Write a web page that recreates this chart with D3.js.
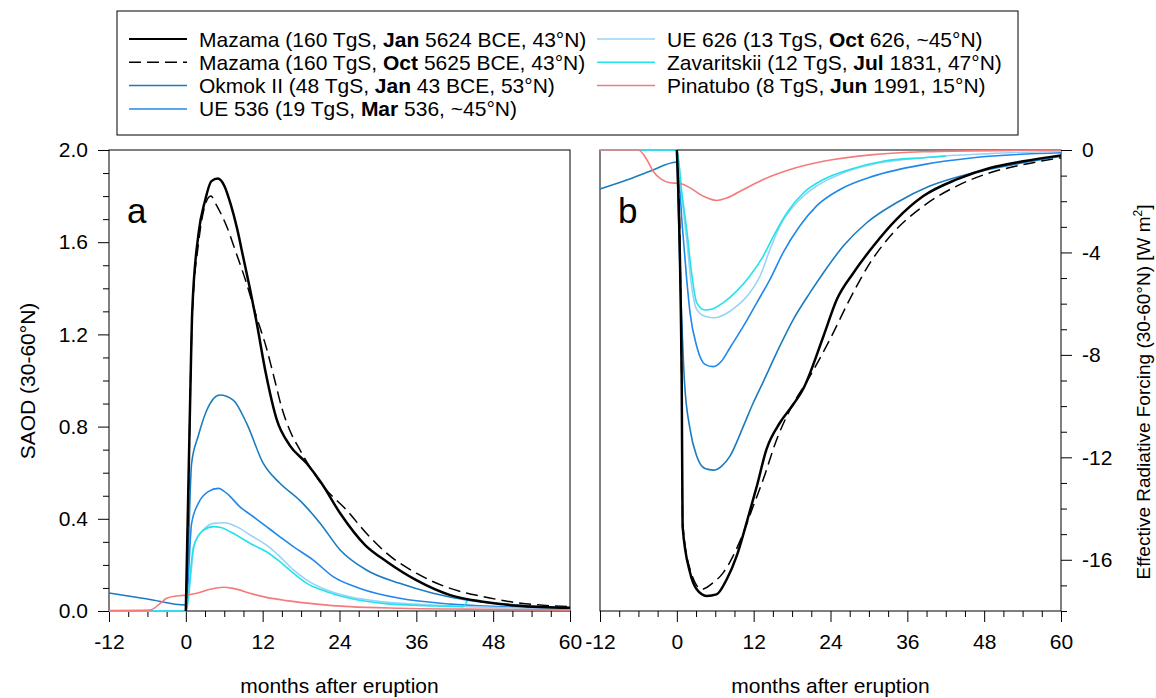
<!DOCTYPE html>
<html>
<head>
<meta charset="utf-8">
<script src="https://cdn.jsdelivr.net/npm/d3@7"></script>
<style>
  body { margin: 0; background: #fff; }
  svg { font-family: "Liberation Sans", Arial, sans-serif; }
</style>
</head>
<body>
<svg width="1156" height="698"></svg>
<script>
// Panel a: SAOD (30-60N), [month, value]
const mazamaJanSaod = [[0,0],[0.7,0.95],[1,1.30],[2,1.64],[3,1.78],[4,1.865],[5,1.876],[6,1.845],[7,1.765],[8,1.66],[9,1.53],[10,1.40],[11,1.26],[12.5,1.03],[14.2,0.83],[16.2,0.72],[18.9,0.64],[21.2,0.554],[24.1,0.424],[28,0.286],[31.4,0.214],[36,0.134],[41.3,0.069],[46.4,0.04],[51.7,0.023],[60,0.014]];
const mazamaOctSaod = [[-12,0],[0,0],[0.7,0.95],[1,1.28],[2,1.60],[3,1.76],[3.9,1.80],[4.8,1.76],[6.4,1.667],[7.9,1.55],[9.5,1.42],[11,1.28],[12.6,1.14],[13.9,1.0],[15,0.88],[16.3,0.78],[17.8,0.70],[21.5,0.54],[25.1,0.438],[28.2,0.337],[31.4,0.25],[36,0.164],[41.3,0.098],[46.5,0.062],[51.7,0.036],[60,0.019]];
const okmokSaod = [[-12,0.078],[-6,0.052],[0,0.026],[0.9,0.64],[1.95,0.76],[3.25,0.87],[5.3,0.937],[7.4,0.915],[9.5,0.814],[12.1,0.64],[14.7,0.554],[17.8,0.48],[21,0.38],[24.1,0.265],[28.2,0.178],[33.4,0.12],[38.6,0.077],[43.8,0.048],[51.7,0.026],[60,0.014]];
const ue536Saod = [[-12,0],[0,0],[0.9,0.38],[1.95,0.467],[3.5,0.518],[5.1,0.532],[6.4,0.51],[8.45,0.452],[10.5,0.41],[12.6,0.366],[14.7,0.322],[16.8,0.279],[19.9,0.221],[23,0.149],[27.2,0.098],[33.4,0.055],[41.3,0.03],[49,0.019],[60,0.011]];
const ue626Saod = [[-12,0],[0,0],[1.4,0.294],[2.7,0.35],[4.3,0.38],[6.1,0.383],[7.9,0.366],[10.5,0.322],[12.6,0.286],[14.7,0.236],[16.8,0.178],[18.9,0.134],[22,0.091],[25.6,0.062],[30.8,0.04],[38.6,0.026],[43.8,0.019],[52,0.013],[60,0.01]];
const zavaritskiiSaod = [[-12,0],[0,0],[1.2,0.279],[2.7,0.35],[4.3,0.366],[5.3,0.363],[7.4,0.337],[10,0.294],[12.6,0.257],[14.7,0.214],[16.8,0.164],[18.9,0.12],[22,0.084],[25.6,0.055],[30.8,0.033],[38.6,0.022],[43.3,0.019],[44,0.048]];
const pinatuboSaod = [[-12,0.002],[-5.6,0.004],[-4,0.033],[-3,0.055],[-1.45,0.065],[0,0.069],[1.7,0.077],[3.8,0.094],[5.85,0.103],[7.4,0.098],[10,0.077],[12.6,0.059],[15.7,0.045],[20.4,0.03],[25.6,0.019],[33.4,0.012],[43.8,0.008],[60,0.005]];

// Panel b: effective radiative forcing (30-60N) [W m-2]
const mazamaJanErf = [[0,0],[0.76,-8.96],[0.9,-14.7],[2.06,-16.5],[3.1,-17.15],[4.66,-17.41],[6.2,-17.35],[7.8,-16.76],[9.35,-15.85],[10.9,-14.55],[12.5,-13.12],[14,-11.69],[16.1,-10.65],[18.2,-9.93],[19.75,-9.32],[22.9,-7.27],[25,-5.83],[27.6,-4.79],[30.7,-3.75],[34.3,-2.71],[38.5,-1.8],[43.7,-1.15],[48.9,-0.7],[54.1,-0.44],[60,-0.21]];
const mazamaOctErf = [[-12,0],[0,0],[0.76,-8.96],[0.9,-14.5],[2.1,-16.4],[3.9,-17.15],[5.7,-16.89],[7.26,-16.5],[8.8,-15.85],[10.4,-14.94],[11.94,-13.9],[13.5,-12.86],[15.6,-11.3],[17.7,-10.13],[20.5,-8.96],[23.9,-7.4],[27,-5.83],[30.2,-4.4],[33.8,-3.23],[38.5,-2.19],[43.7,-1.41],[48.9,-0.89],[54.1,-0.57],[60,-0.3]];
const okmokErf = [[-12,-1.52],[-8.36,-1.22],[-4.2,-0.83],[-0.1,-0.48],[0.6,-5.5],[1.17,-8.96],[2.06,-10.9],[3.1,-11.95],[4.4,-12.44],[5.7,-12.5],[7,-12.34],[8.3,-11.95],[10.4,-10.78],[11.94,-9.87],[13.4,-9.1],[15.6,-7.91],[18.2,-6.61],[20.8,-5.57],[22.9,-4.79],[26,-3.75],[29.65,-2.84],[34.3,-2.06],[39.5,-1.41],[46.3,-0.89],[54.1,-0.5],[60,-0.24]];
const ue536Erf = [[-12,0],[0,0],[0.8,-2.8],[1.54,-5.05],[2.06,-6.35],[3.1,-7.66],[4.4,-8.37],[5.7,-8.46],[7,-8.24],[8.3,-7.72],[10.4,-6.88],[12.5,-5.96],[14.55,-5.05],[16.6,-4.01],[19.2,-2.97],[21.8,-2.19],[25.5,-1.54],[30.7,-1.02],[38.5,-0.57],[46.3,-0.3],[60,-0.11]];
const ue626Erf = [[-12,0],[0,0],[0.8,-1.9],[1.54,-3.49],[2.3,-5.3],[3.1,-6.22],[4.4,-6.49],[5.96,-6.55],[7.5,-6.42],[9.35,-6.1],[11.4,-5.57],[13,-4.92],[14.55,-3.88],[16.1,-2.97],[18.7,-2.06],[21.8,-1.41],[26,-0.89],[31.2,-0.53],[38.5,-0.3],[48.9,-0.14],[60,-0.05]];
const zavaritskiiErf = [[-12,0],[0,0],[0.8,-1.7],[1.54,-3.1],[2.3,-4.79],[3.1,-5.96],[4.4,-6.25],[5.4,-6.22],[7.26,-5.96],[9.35,-5.51],[11.4,-4.92],[13.5,-4.14],[15.1,-3.36],[17.2,-2.45],[19.8,-1.67],[22.9,-1.15],[27,-0.76],[32.2,-0.44],[38.5,-0.3],[42,-0.24]];
const pinatuboErf = [[-12,0],[-6,0],[-4.7,-0.37],[-3.7,-0.83],[-2.4,-1.15],[-1.07,-1.28],[0.5,-1.31],[2.06,-1.48],[4.1,-1.8],[6.2,-1.97],[7.8,-1.87],[10.4,-1.54],[13.5,-1.15],[17.7,-0.76],[22.9,-0.44],[30.7,-0.18],[38.5,-0.07],[54,-0.01],[60,0]];

const monthTicks = [-12, 0, 12, 24, 36, 48, 60];
const saodTicks = [0, 0.4, 0.8, 1.2, 1.6, 2.0];
const erfTicks = [0, -4, -8, -12, -16];

// legend rows: label parts [text, bold?]
const legendItems = [
  { key: "mazamaJan", parts: [["Mazama (160 TgS, ", false], ["Jan", true], [" 5624 BCE, 43°N)", false]] },
  { key: "mazamaOct", parts: [["Mazama (160 TgS, ", false], ["Oct", true], [" 5625 BCE, 43°N)", false]] },
  { key: "okmok", parts: [["Okmok II (48 TgS, ", false], ["Jan", true], [" 43 BCE, 53°N)", false]] },
  { key: "ue536", parts: [["UE 536 (19 TgS, ", false], ["Mar", true], [" 536, ~45°N)", false]] },
  { key: "ue626", parts: [["UE 626 (13 TgS, ", false], ["Oct", true], [" 626, ~45°N)", false]] },
  { key: "zavaritskii", parts: [["Zavaritskii (12 TgS, ", false], ["Jul", true], [" 1831, 47°N)", false]] },
  { key: "pinatubo", parts: [["Pinatubo (8 TgS, ", false], ["Jun", true], [" 1991, 15°N)", false]] }
];

const styles = {
  mazamaJan: { color: "#000", width: 2.5, dash: null },
  mazamaOct: { color: "#000", width: 1.5, dash: "12,6" },
  okmok: { color: "#1a7cbf", width: 1.6, dash: null },
  ue536: { color: "#2088ea", width: 1.6, dash: null },
  ue626: { color: "#9ad2f7", width: 1.6, dash: null },
  zavaritskii: { color: "#22e3ea", width: 1.6, dash: null },
  pinatubo: { color: "#f47b7b", width: 1.6, dash: null }
};

const saodSeries = { mazamaOct: mazamaOctSaod, ue536: ue536Saod, ue626: ue626Saod, zavaritskii: zavaritskiiSaod, okmok: okmokSaod, pinatubo: pinatuboSaod, mazamaJan: mazamaJanSaod };
const erfSeries = { mazamaOct: mazamaOctErf, ue536: ue536Erf, ue626: ue626Erf, zavaritskii: zavaritskiiErf, okmok: okmokErf, pinatubo: pinatuboErf, mazamaJan: mazamaJanErf };

const svg = d3.select("svg");
const plotTop = 150, plotBottom = 611;
const fontSize = "21px";
// plain hyphen for negative numbers, like the original
const hyphen = f => d => f(d).replace("\u2212", "-");

function drawPanel(left, right, yDomain, yTicks, yMinorStep, series, yFormat, side, letter) {
  const x = d3.scaleLinear().domain([-12, 60]).range([left, right]);
  const y = d3.scaleLinear().domain(yDomain).range([plotBottom, plotTop]);
  const g = svg.append("g");

  // frame
  g.append("rect")
    .attr("x", left).attr("y", plotTop)
    .attr("width", right - left).attr("height", plotBottom - plotTop)
    .attr("fill", "none").attr("stroke", "#000").attr("stroke-width", 1);

  // x axis: major ticks every 12, minor every 3
  const xMinor = d3.range(-12, 61, 3).filter(d => d % 12 !== 0);
  g.append("g")
    .attr("transform", `translate(0,${plotBottom})`)
    .call(d3.axisBottom(x).tickValues(xMinor).tickSize(6).tickFormat(""))
    .call(a => a.select(".domain").remove());
  g.append("g")
    .attr("transform", `translate(0,${plotBottom})`)
    .call(d3.axisBottom(x).tickValues(monthTicks).tickSize(11).tickPadding(12).tickFormat(hyphen(d3.format("d"))))
    .call(a => a.select(".domain").remove())
    .selectAll("text").style("font-size", fontSize).attr("fill", "#000");

  // y axis
  const yMinor = d3.range(yDomain[0], yDomain[1] + 1e-9, yMinorStep)
    .filter(v => !yTicks.some(t => Math.abs(t - v) < 1e-6));
  const axisFn = side === "left" ? d3.axisLeft : d3.axisRight;
  const xPos = side === "left" ? left : right;
  g.append("g")
    .attr("transform", `translate(${xPos},0)`)
    .call(axisFn(y).tickValues(yMinor).tickSize(6).tickFormat(""))
    .call(a => a.select(".domain").remove());
  g.append("g")
    .attr("transform", `translate(${xPos},0)`)
    .call(axisFn(y).tickValues(yTicks).tickSize(11).tickPadding(10).tickFormat(hyphen(yFormat)))
    .call(a => a.select(".domain").remove())
    .selectAll("text").style("font-size", fontSize).attr("fill", "#000");

  const line = d3.line()
    .x(d => x(d[0]))
    .y(d => y(d[1]))
    .curve(d3.curveMonotoneX);

  Object.entries(series).forEach(([key, data]) => {
    const s = styles[key];
    g.append("path")
      .datum(data)
      .attr("d", line)
      .attr("fill", "none")
      .attr("stroke", s.color)
      .attr("stroke-width", s.width)
      .attr("stroke-dasharray", s.dash)
      .attr("stroke-linejoin", "round");
  });

  g.append("text")
    .attr("x", left + 18).attr("y", 223)
    .style("font-size", "35px")
    .text(letter);

  g.append("text")
    .attr("x", (left + right) / 2).attr("y", 693)
    .attr("text-anchor", "middle")
    .style("font-size", fontSize)
    .text("months after eruption");
}

drawPanel(109, 570, [0, 2], saodTicks, 0.1, saodSeries, d3.format(".1f"), "left", "a");
drawPanel(600, 1061, [-18, 0], erfTicks, 1, erfSeries, d3.format("d"), "right", "b");

// y titles
svg.append("text")
  .attr("transform", "translate(35,381) rotate(-90)")
  .attr("text-anchor", "middle")
  .style("font-size", fontSize)
  .text("SAOD (30-60°N)");

const erfTitle = svg.append("text")
  .attr("transform", "translate(1150,392) rotate(-90)")
  .attr("text-anchor", "middle")
  .style("font-size", "19px");
erfTitle.append("tspan").text("Effective Radiative Forcing (30-60°N) [W m");
erfTitle.append("tspan").attr("dy", -8).style("font-size", "12px").text("2");
erfTitle.append("tspan").attr("dy", 8).text("]");

// legend
const legend = svg.append("g");
legend.append("rect")
  .attr("x", 117).attr("y", 11)
  .attr("width", 901).attr("height", 124)
  .attr("fill", "#fff").attr("stroke", "#000").attr("stroke-width", 1);

legendItems.forEach((item, i) => {
  const col = i < 4 ? 0 : 1;
  const row = i < 4 ? i : i - 4;
  const lx = col === 0 ? 129 : 597;
  const ly = 39 + row * 23.3;
  const s = styles[item.key];
  legend.append("line")
    .attr("x1", lx).attr("x2", lx + 58)
    .attr("y1", ly).attr("y2", ly)
    .attr("stroke", s.color)
    .attr("stroke-width", item.key === "mazamaJan" ? 2 : 1.5)
    .attr("stroke-dasharray", s.dash);
  const t = legend.append("text")
    .attr("x", lx + 70).attr("y", ly + 7.5)
    .style("font-size", fontSize);
  item.parts.forEach(p => {
    t.append("tspan").attr("font-weight", p[1] ? "bold" : null).text(p[0]);
  });
});
</script>
</body>
</html>
